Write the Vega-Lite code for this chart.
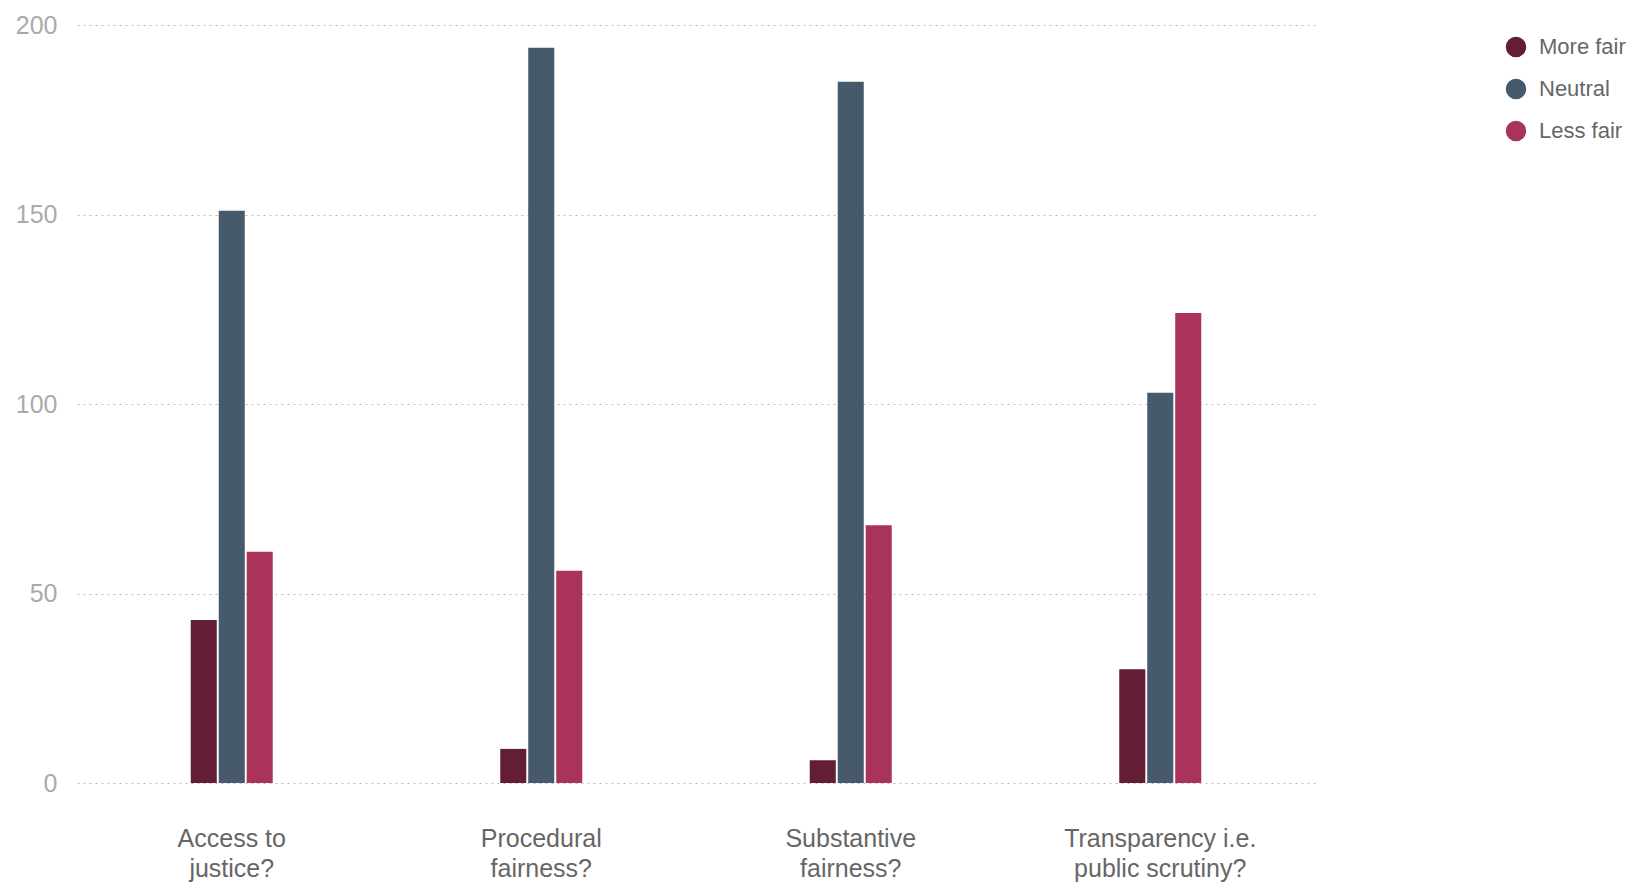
{
  "$schema": "https://vega.github.io/schema/vega-lite/v6.json",
  "width": 1238,
  "height": 758,
  "autosize": {"type": "none"},
  "padding": {"left": 77, "top": 25, "right": 318, "bottom": 102},
  "background": "white",
  "config": {
    "view": {"stroke": null},
    "font": "Liberation Sans"
  },
  "data": {
    "values": [
      {"question": "Access to justice?", "response": "More fair", "count": 43},
      {"question": "Access to justice?", "response": "Neutral", "count": 151},
      {"question": "Access to justice?", "response": "Less fair", "count": 61},
      {"question": "Procedural fairness?", "response": "More fair", "count": 9},
      {"question": "Procedural fairness?", "response": "Neutral", "count": 194},
      {"question": "Procedural fairness?", "response": "Less fair", "count": 56},
      {"question": "Substantive fairness?", "response": "More fair", "count": 6},
      {"question": "Substantive fairness?", "response": "Neutral", "count": 185},
      {"question": "Substantive fairness?", "response": "Less fair", "count": 68},
      {"question": "Transparency i.e. public scrutiny?", "response": "More fair", "count": 30},
      {"question": "Transparency i.e. public scrutiny?", "response": "Neutral", "count": 103},
      {"question": "Transparency i.e. public scrutiny?", "response": "Less fair", "count": 124}
    ]
  },
  "mark": {"type": "bar"},
  "encoding": {
    "x": {
      "field": "question",
      "type": "nominal",
      "sort": null,
      "scale": {"paddingInner": 0.735, "paddingOuter": 0.3675},
      "axis": {
        "title": null,
        "labelAngle": 0,
        "domain": false,
        "ticks": false,
        "labelFontSize": 25,
        "labelColor": "#666666",
        "labelPadding": 43,
        "labelDx": -4,
        "labelLineHeight": 30,
        "labelBaseline": "top",
        "labelLimit": 400,
        "labelExpr": "datum.value == 'Access to justice?' ? ['Access to', 'justice?'] : datum.value == 'Procedural fairness?' ? ['Procedural', 'fairness?'] : datum.value == 'Substantive fairness?' ? ['Substantive', 'fairness?'] : ['Transparency i.e.', 'public scrutiny?']"
      }
    },
    "xOffset": {
      "field": "response",
      "type": "nominal",
      "sort": ["More fair", "Neutral", "Less fair"],
      "scale": {"paddingInner": 0.07, "paddingOuter": 0}
    },
    "y": {
      "field": "count",
      "type": "quantitative",
      "scale": {"domain": [0, 200], "nice": false},
      "axis": {
        "title": null,
        "values": [0, 50, 100, 150, 200],
        "domain": false,
        "ticks": false,
        "grid": true,
        "gridColor": "#bbbbbb",
        "gridDash": [2, 4],
        "gridWidth": 1,
        "labelFontSize": 25,
        "labelColor": "#aaaaaa",
        "labelPadding": 20
      }
    },
    "color": {
      "field": "response",
      "type": "nominal",
      "sort": ["More fair", "Neutral", "Less fair"],
      "scale": {
        "domain": ["More fair", "Neutral", "Less fair"],
        "range": ["#631e36", "#465a6b", "#a9335a"]
      },
      "legend": {
        "title": null,
        "orient": "none",
        "legendX": 1428,
        "legendY": 11,
        "padding": 0,
        "symbolType": "circle",
        "symbolSize": 420,
        "symbolStrokeWidth": 0,
        "symbolOpacity": 1,
        "labelFontSize": 22,
        "labelColor": "#666666",
        "labelOffset": 12,
        "rowPadding": 20,
        "labelLimit": 300
      }
    }
  }
}
